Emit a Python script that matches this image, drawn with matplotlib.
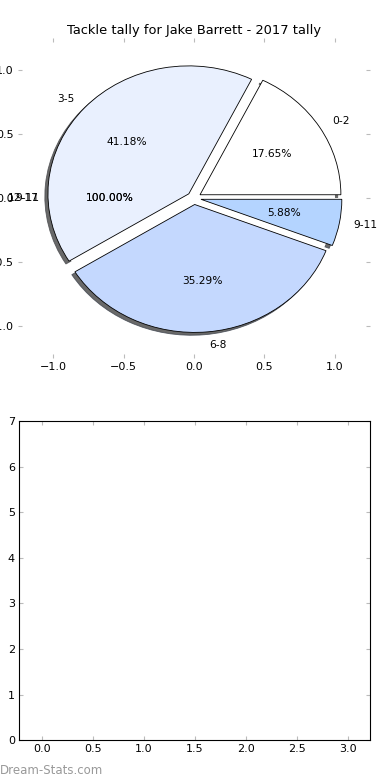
import matplotlib
matplotlib.use("Agg")
import matplotlib.pyplot as plt
from matplotlib.patches import Shadow
import numpy as np

title = "Tackle tally for Jake Barrett - 2017 tally"
categories = ["0-2", "3-5", "6-8", "9-11"]
counts = [3, 7, 6, 1]
colors = ["#ffffff", "#e9f0fe", "#c4d8fe", "#b4d4ff"]
explode = [0.05, 0.05, 0.05, 0.05]
# single-wedge overlay pies (leftover labels in the original)
extra_labels = ["12-17", "9-11"]
extra_counts = [1]

x_ticks = [-1.0, -0.5, 0.0, 0.5, 1.0]
y_ticks = [-1.0, -0.5, 0.0, 0.5, 1.0]
bottom_xticks = [0.0, 0.5, 1.0, 1.5, 2.0, 2.5, 3.0]
bottom_yticks = [0, 1, 2, 3, 4, 5, 6, 7]

fig = plt.figure(figsize=(3.9, 7.8), dpi=100)
ax1 = fig.add_axes([0.046, 0.541, 0.903, 0.410])
ax2 = fig.add_axes([0.049, 0.051, 0.900, 0.409])

wedges, texts, autotexts = ax1.pie(counts, labels=categories, colors=colors, explode=explode,
                                   autopct="%1.2f%%",
                                   shadow={"ox": -0.016, "oy": -0.016},
                                   startangle=0,
                                   textprops={"fontsize": 7.7},
                                   wedgeprops={"linewidth": 0.6, "edgecolor": "black"})
for p in ax1.patches:
    if isinstance(p, Shadow):
        p.set_zorder(0.3)
        p.set_facecolor("#444444")
        p.set_alpha(0.8)
for wd in wedges:
    wd.set_zorder(1)

for lab in extra_labels:
    w, t, a = ax1.pie(extra_counts, labels=[lab], colors=["#ffffff"], autopct="%1.2f%%",
                      shadow=False, startangle=0, textprops={"fontsize": 7.7})
    for wd in w:
        wd.set_linewidth(0)
        wd.set_zorder(0.6)
    for tt in list(t) + list(a):
        tt.set_zorder(3)

ax1.set_aspect("auto")
ax1.set_xlim(-1.25, 1.25)
ax1.set_ylim(-1.25, 1.25)
ax1.set_frame_on(False)
ax1.set_xticks(x_ticks)
ax1.set_yticks(y_ticks)
ax1.set_xticklabels(["\u22121.0", "\u22120.5", "0.0", "0.5", "1.0"])
ax1.set_yticklabels(["\u22121.0", "\u22120.5", "0.0", "0.5", "1.0"])
ax1.tick_params(direction="in", length=3, color="#bbbbbb", labelsize=8,
                top=True, right=True, pad=3)
ax1.set_title(title, fontsize=9.4, pad=3)

ax2.set_xlim(-0.225, 3.215)
ax2.set_ylim(0, 7)
ax2.set_xticks(bottom_xticks)
ax2.set_yticks(bottom_yticks)
ax2.tick_params(direction="in", length=3, color="#bbbbbb", labelsize=8,
                top=True, right=True, pad=3)
for s in ax2.spines.values():
    s.set_linewidth(0.8)

fig.text(0.0, 0.004, "Dream-Stats.com", fontsize=8.5, color="#999999", ha="left", va="bottom")

fig.savefig("out.png", dpi=100)
